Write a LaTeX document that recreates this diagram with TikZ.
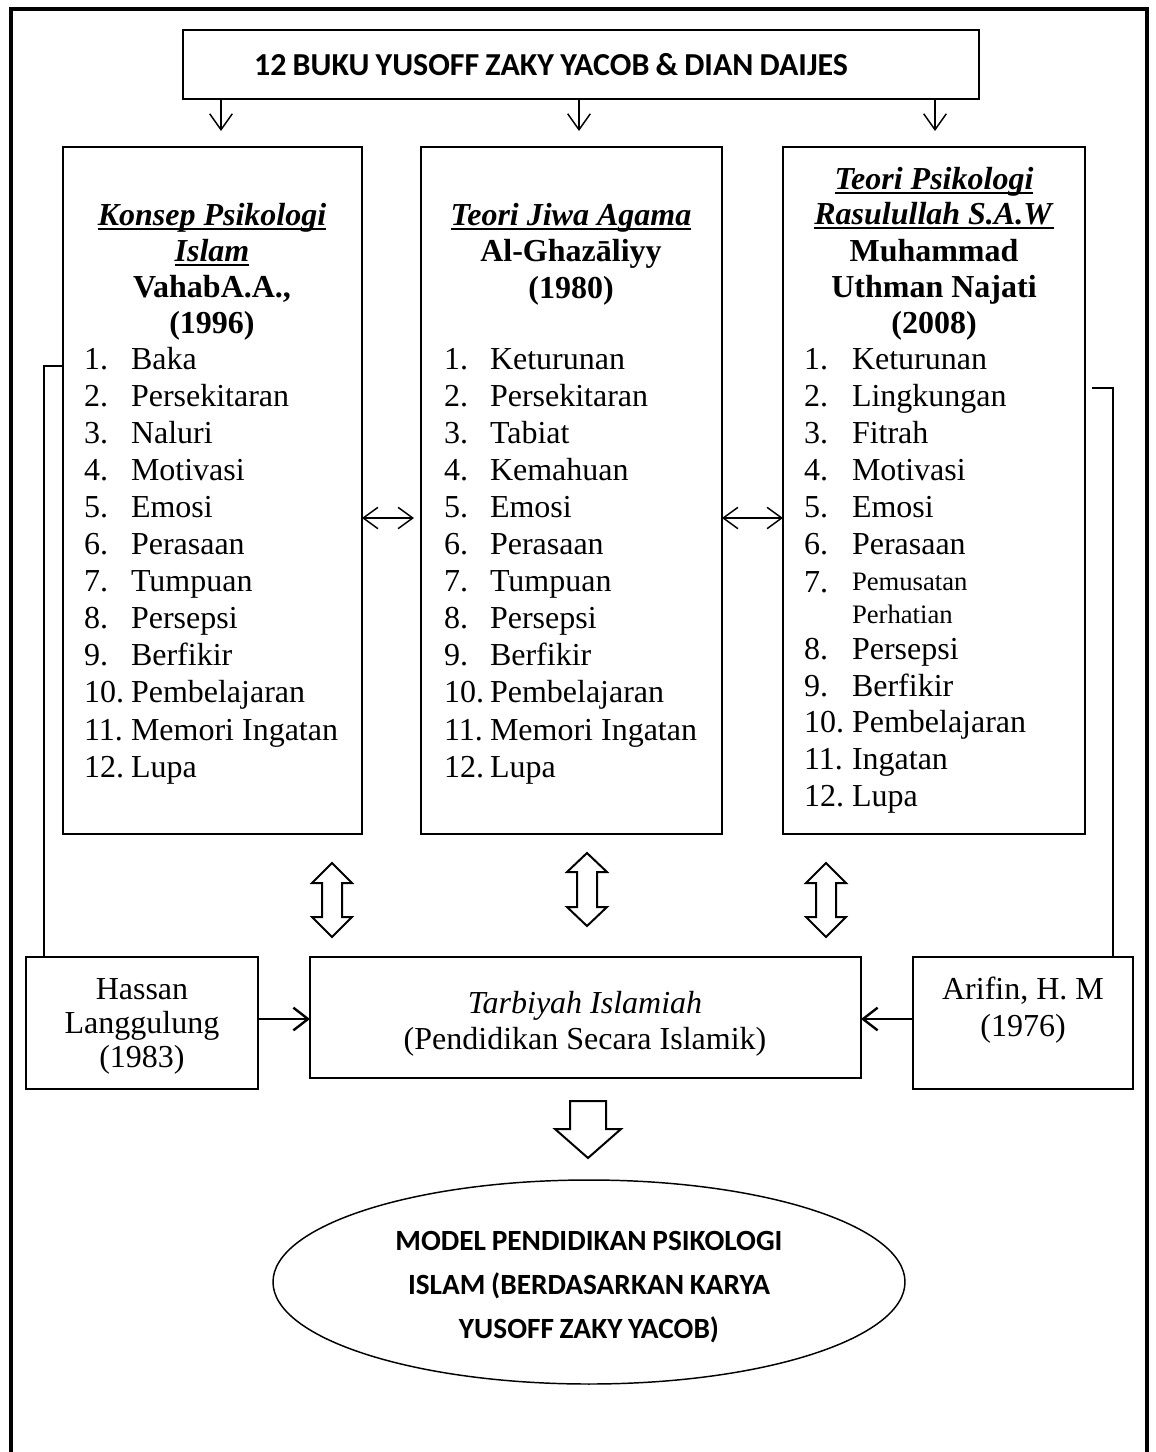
\documentclass[tikz,border=0pt]{standalone}
\usepackage{fontspec}
\setmainfont{Liberation Serif}
\newfontfamily\carlito{Carlito}[WordSpace=0.85]
\usetikzlibrary{arrows.meta,shapes.geometric,fit}
\newcommand\hollowvd[5]{%
  \draw[hollow] (#1,#2) -- ({#1+20},#3) -- ({#1+10},#3) -- ({#1+10},#4) -- ({#1+20},#4) -- (#1,#5)
    -- ({#1-20},#4) -- ({#1-10},#4) -- ({#1-10},#3) -- ({#1-20},#3) -- cycle;}
\newcommand\uln[1]{\setbox0\hbox{#1}\rlap{\rule[-1.7pt]{\wd0}{0.75pt}}\box0}
\begin{document}
\begin{tikzpicture}[x=0.375pt,y=-0.375pt,
  every node/.style={inner sep=0pt, outer sep=0pt},
  thinbox/.style={draw, line width=0.55pt},
  thickbox/.style={draw, line width=1.1pt},
  midbox/.style={draw, line width=0.9pt},
  tx/.style={font=\fontsize{12}{13.8}\selectfont, anchor=base west},
  tc/.style={font=\fontsize{12}{13.8}\selectfont, anchor=base},
  hd/.style={font=\fontsize{11}{16.5}\selectfont\carlito\bfseries, align=center},
  arr/.style={line width=0.55pt, -{Straight Barb[length=6pt,width=8.5pt]}},
  arrb/.style={line width=0.9pt, -{Straight Barb[length=5.5pt,width=8.5pt]}},
  darr/.style={line width=0.55pt, {Straight Barb[length=5.5pt,width=8pt]}-{Straight Barb[length=5.5pt,width=8pt]}},
  hollow/.style={draw, line width=0.75pt, fill=white, line join=miter},
  conn/.style={line width=0.55pt}
]
\useasboundingbox (0,0) rectangle (1156,1452);
% outer frame
\draw[line width=1.3pt, line join=miter] (11,1470) -- (11,9) -- (1147,9) -- (1147,1470);

% top box
\node[fit={(183,30) (979,99)}, thickbox] (T) {};
\node[hd, font=\fontsize{12}{16.5}\selectfont\carlito\bfseries] (Tt) at ([xshift=-30*0.375pt]T.center) {12 BUKU YUSOFF ZAKY YACOB \& DIAN DAIJES};

% three boxes
\node[fit={(63,147) (362,834)}, thinbox] (L) {};
\node[fit={(421,147) (722,834)}, thinbox] (M) {};
\node[fit={(783,147) (1085,834)}, thinbox] (R) {};

% down arrows
\coordinate (a1) at (221,131);
\coordinate (a2) at (579,131);
\coordinate (a3) at (935,131);
\draw[arr] (T.south -| a1) -- (a1);
\draw[arr] (T.south -| a2) -- (a2);
\draw[arr] (T.south -| a3) -- (a3);

% left header
\node[tc] (lh1) at (212,225) {\uln{\textbf{\textit{Konsep Psikologi}}}};
\node[tc] (lh2) at (212,261) {\uln{\textbf{\textit{Islam}}}};
\node[tc] (lh3) at (212,297) {\textbf{VahabA.A.,}};
\node[tc] (lh4) at (212,333) {\textbf{(1996)}};
% middle header
\node[tc] (mh1) at (571,225) {\uln{\textbf{\textit{Teori Jiwa Agama}}}};
\node[tc] (mh2) at (571,261) {\textbf{Al-Ghazāliyy}};
\node[tc] (mh3) at (571,298) {\textbf{(1980)}};
% right header
\node[tc] (rh1) at (934,189) {\uln{\textbf{\textit{Teori Psikologi}}}};
\node[tc] (rh2) at (934,224) {\uln{\textbf{\textit{Rasulullah S.A.W}}}};
\node[tc] (rh3) at (934,261) {\textbf{Muhammad}};
\node[tc] (rh4) at (934,297) {\textbf{Uthman Najati}};
\node[tc] (rh5) at (934,333) {\textbf{(2008)}};

% left list
\foreach \t [count=\i] in {Baka,Persekitaran,Naluri,Motivasi,Emosi,Perasaan,Tumpuan,Persepsi,Berfikir,Pembelajaran,Memori Ingatan,Lupa}{
  \node[tx] (ln\i) at (84,{369+37.1*(\i-1)}) {\i.};
  \node[tx] (lt\i) at (131,{369+37.1*(\i-1)}) {\t};
}
% middle list
\foreach \t [count=\i] in {Keturunan,Persekitaran,Tabiat,Kemahuan,Emosi,Perasaan,Tumpuan,Persepsi,Berfikir,Pembelajaran,Memori Ingatan,Lupa}{
  \node[tx] (mn\i) at (444,{369+37.1*(\i-1)}) {\i.};
  \node[tx] (mt\i) at (490,{369+37.1*(\i-1)}) {\t};
}
% right list
\foreach \t/\y [count=\i] in {Keturunan/369,Lingkungan/406,Fitrah/443,Motivasi/480,Emosi/517,Perasaan/554}{
  \node[tx] (rn\i) at (804,\y) {\i.};
  \node[tx] (rt\i) at (852,\y) {\t};
}
\node[tx] (rn7) at (804,592) {7.};
\node[tx, font=\fontsize{10}{12}\selectfont] (rt7) at (852,590) {Pemusatan};
\node[tx, font=\fontsize{10}{12}\selectfont] (rt7b) at (852,623) {Perhatian};
\foreach \t/\y [count=\j from 8] in {Persepsi/659,Berfikir/696,Pembelajaran/732,Ingatan/769,Lupa/806}{
  \node[tx] (rn\j) at (804,\y) {\j.};
  \node[tx] (rt\j) at (852,\y) {\t};
}

% horizontal double arrows
\coordinate (d1) at (414,518);
\coordinate (d2) at (722,518);
\draw[darr] (L.east |- d1) -- (d1);
\draw[darr] (d2) -- (R.west |- d2);

% hollow vertical double arrows
\hollowvd{332}{863}{883}{917}{937}
\hollowvd{587}{853}{872}{907}{926}
\hollowvd{826}{863}{883}{917}{937}

% bottom row
\node[fit={(26,957) (258,1089)}, thinbox] (H) {};
\node[fit={(310,957) (861,1078)}, midbox] (TB) {};
\node[fit={(913,957) (1133,1089)}, thinbox] (A) {};

\node[tc] (h1) at (142,999) {Hassan};
\node[tc] (h2) at (142,1033) {Langgulung};
\node[tc] (h3) at (142,1067) {(1983)};
\node[tc] (t1) at (585,1013) {\textit{Tarbiyah Islamiah}};
\node[tc] (t2) at (585,1049) {(Pendidikan Secara Islamik)};
\node[tc] (r1) at (1023,999) {Arifin, H. M};
\node[tc] (r2) at (1023,1036) {(1976)};

\coordinate (y1) at (0,1019);
\draw[arrb] (H.east |- y1) -- (TB.west |- y1);
\draw[arrb] (A.west |- y1) -- (TB.east |- y1);

% side connectors
\coordinate (lc) at (44,366);
\draw[conn] (L.west |- lc) -- (lc) -- (H.north -| lc);
\coordinate (rc0) at (1092,388);
\coordinate (rc) at (1113,388);
\draw[conn] (rc0) -- (rc) -- (A.north -| rc);

% hollow down arrow
\draw[hollow] (570,1101) -- (606,1101) -- (606,1129) -- (621,1129) -- (588,1158) -- (555,1129) -- (570,1129) -- cycle;

% ellipse
\node[draw, ellipse, line width=0.55pt, minimum width=632*0.375pt, minimum height=204*0.375pt] (E) at (589,1282) {};
\node[hd] (Et) at (589,1287) {MODEL PENDIDIKAN PSIKOLOGI\\ISLAM (BERDASARKAN KARYA\\YUSOFF ZAKY YACOB)};
\end{tikzpicture}
\end{document}
